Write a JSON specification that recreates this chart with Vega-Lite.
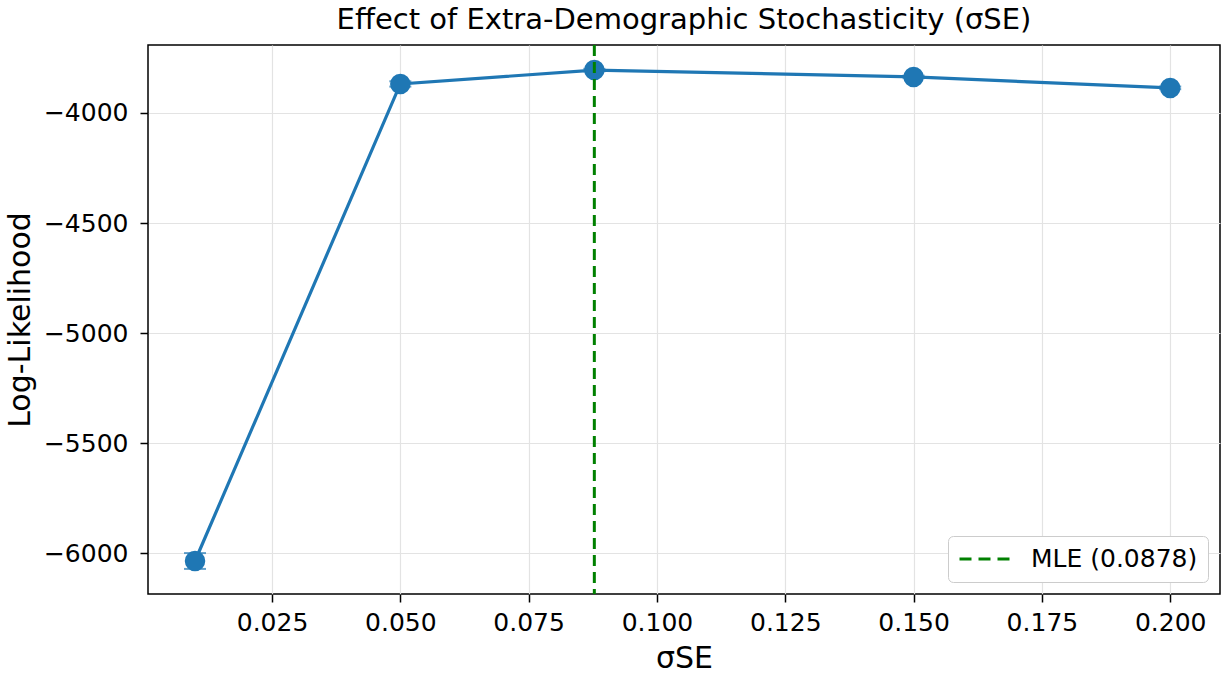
{
  "$schema": "https://vega.github.io/schema/vega-lite/v6.json",
  "autosize": "none",
  "width": 1072,
  "height": 549,
  "padding": {"left": 148, "top": 45, "right": 5, "bottom": 83},
  "background": "white",
  "config": {
    "font": "DejaVu Sans",
    "view": {"stroke": "black", "strokeWidth": 1.5},
    "axis": {"labelFont": "DejaVu Sans", "titleFont": "DejaVu Sans", "labelColor": "black", "titleColor": "black", "titleFontWeight": "normal", "domain": false, "tickColor": "black", "tickWidth": 1.5, "tickSize": 8, "gridColor": "#e3e3e3", "gridWidth": 1.2}
  },
  "title": {"text": "Effect of Extra-Demographic Stochasticity (σSE)", "fontSize": 29, "fontWeight": "normal", "font": "DejaVu Sans", "color": "black", "offset": 9},
  "datasets": {
    "pts": [
      {"sigma": 0.01, "ll": -6036, "lo": -6072, "hi": -6000},
      {"sigma": 0.05, "ll": -3868, "lo": -3880, "hi": -3856},
      {"sigma": 0.0878, "ll": -3805, "lo": -3811, "hi": -3799},
      {"sigma": 0.15, "ll": -3836, "lo": -3842, "hi": -3830},
      {"sigma": 0.2, "ll": -3886, "lo": -3892, "hi": -3880}
    ],
    "mle": [{"sigma": 0.0878, "label": "MLE (0.0878)"}]
  },
  "layer": [
    {
      "data": {"name": "pts"},
      "mark": {"type": "rule", "color": "#1f77b4", "strokeWidth": 2},
      "encoding": {
        "x": {"field": "sigma", "type": "quantitative", "scale": {"domain": [0.00084, 0.2097], "nice": false, "zero": false},
          "axis": {"values": [0.025, 0.05, 0.075, 0.1, 0.125, 0.15, 0.175, 0.2], "format": ".3f", "labelFontSize": 25, "labelPadding": 8, "title": "σSE", "titleFontSize": 30, "titlePadding": 8, "grid": true}},
        "y": {"field": "lo", "type": "quantitative", "scale": {"domain": [-6186, -3691], "nice": false, "zero": false},
          "axis": {"values": [-6000, -5500, -5000, -4500, -4000], "format": "d", "labelFontSize": 25, "labelPadding": 12, "title": "Log-Likelihood", "titleFontSize": 30, "titlePadding": 8, "grid": true}},
        "y2": {"field": "hi"}
      }
    },
    {
      "data": {"name": "pts"},
      "mark": {"type": "tick", "orient": "horizontal", "color": "#1f77b4", "size": 22, "thickness": 2},
      "encoding": {"x": {"field": "sigma", "type": "quantitative"}, "y": {"field": "lo", "type": "quantitative"}}
    },
    {
      "data": {"name": "pts"},
      "mark": {"type": "tick", "orient": "horizontal", "color": "#1f77b4", "size": 22, "thickness": 2},
      "encoding": {"x": {"field": "sigma", "type": "quantitative"}, "y": {"field": "hi", "type": "quantitative"}}
    },
    {
      "data": {"name": "pts"},
      "mark": {"type": "line", "color": "#1f77b4", "strokeWidth": 3.2},
      "encoding": {"x": {"field": "sigma", "type": "quantitative"}, "y": {"field": "ll", "type": "quantitative"}}
    },
    {
      "data": {"name": "pts"},
      "mark": {"type": "point", "filled": true, "opacity": 1, "color": "#1f77b4", "size": 420},
      "encoding": {"x": {"field": "sigma", "type": "quantitative"}, "y": {"field": "ll", "type": "quantitative"}}
    },
    {
      "data": {"name": "mle"},
      "mark": {"type": "rule", "strokeWidth": 3, "strokeDash": [11, 6]},
      "encoding": {
        "x": {"field": "sigma", "type": "quantitative"},
        "color": {"field": "label", "type": "nominal", "scale": {"domain": ["MLE (0.0878)"], "range": ["#008000"]},
          "legend": {"title": null, "orient": "bottom-right", "offset": 12, "symbolType": "stroke", "symbolStrokeWidth": 3, "symbolDash": [12, 7], "symbolSize": 2500, "clipHeight": 26, "labelFontSize": 25, "labelLimit": 400, "labelColor": "black", "labelFont": "DejaVu Sans", "strokeColor": "#cccccc", "fillColor": "white", "padding": 10, "cornerRadius": 5, "labelOffset": 20}}
      }
    }
  ]
}
